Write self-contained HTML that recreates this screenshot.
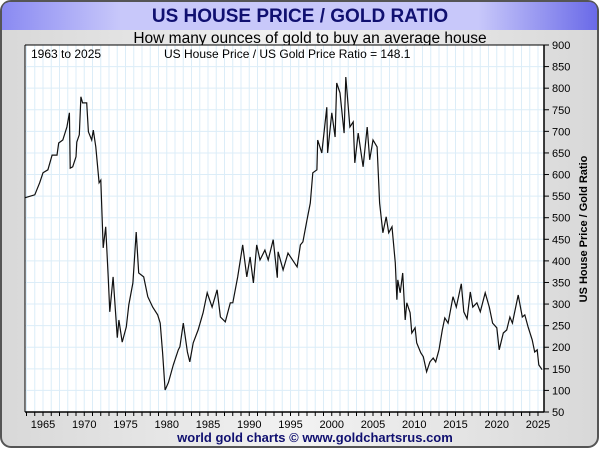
<!DOCTYPE html>
<html><head><meta charset="utf-8"><style>
body{margin:0;width:600px;height:450px;overflow:hidden;background:#fff;font-family:"Liberation Sans",sans-serif}
</style></head><body>
<svg width="600" height="450" viewBox="0 0 600 450">
<defs>
<linearGradient id="hdr" x1="0" x2="1" y1="0" y2="0">
<stop offset="0" stop-color="#8a8af2"/><stop offset="0.2" stop-color="#c8c8fa"/><stop offset="0.8" stop-color="#c8c8fa"/><stop offset="1" stop-color="#6a6ae8"/></linearGradient>
<linearGradient id="bg" x1="0" x2="1" y1="0" y2="0">
<stop offset="0" stop-color="#d8d8d8"/><stop offset="0.5" stop-color="#f2f2f2"/><stop offset="1" stop-color="#d8d8d8"/></linearGradient>
</defs>
<rect x="1" y="1" width="597" height="446" rx="10" fill="url(#bg)" stroke="#555" stroke-width="2"/>
<path d="M2,30 L2,11 Q2,2 11,2 L589,2 Q597,2 597,11 L597,30 Z" fill="url(#hdr)"/>
<text x="300" y="22" text-anchor="middle" font-size="19" font-weight="bold" fill="#101070">US HOUSE PRICE / GOLD RATIO</text>
<text x="310" y="43" text-anchor="middle" font-size="15.5" fill="#000">How many ounces of gold to buy an average house</text>
<rect x="25" y="45" width="519" height="367" fill="#fff"/>
<g id="grid"></g>
<path id="line" fill="none" stroke="#111" stroke-width="1.2"/>
<line x1="25" y1="45" x2="544" y2="45" stroke="#000"/>
<line x1="25" y1="45" x2="25" y2="412" stroke="#000"/>
<line x1="25" y1="412" x2="544" y2="412" stroke="#000" stroke-width="1.5"/>
<line x1="544" y1="45" x2="544" y2="412" stroke="#000" stroke-width="1.5"/>
<g id="axes"></g>
<text x="31" y="58" font-size="12">1963 to 2025</text>
<text x="164" y="58" font-size="12">US House Price / US Gold Price Ratio = 148.1</text>
<text transform="translate(587,229) rotate(-90)" text-anchor="middle" font-size="11" font-weight="bold">US House Price / Gold Ratio</text>
<text x="315" y="442" text-anchor="middle" font-size="13" font-weight="bold" fill="#101070">world gold charts © www.goldchartsrus.com</text>
</svg>
<script>
const years=[1962.8,1964.0,1964.6,1965.0,1965.6,1966.1,1966.7,1966.9,1967.4,1967.9,1968.2,1968.3,1968.6,1969.0,1969.1,1969.4,1969.6,1969.8,1970.3,1970.5,1970.9,1971.1,1971.4,1971.8,1972.0,1972.3,1972.6,1972.9,1973.1,1973.5,1974.0,1974.2,1974.6,1975.1,1975.4,1975.9,1976.3,1976.6,1977.2,1977.7,1978.3,1978.9,1979.2,1979.5,1979.8,1980.2,1980.8,1981.4,1981.6,1982.0,1982.5,1982.8,1983.2,1983.8,1984.4,1984.9,1985.5,1986.1,1986.5,1987.1,1987.7,1988.0,1988.6,1989.2,1989.7,1990.1,1990.5,1990.9,1991.3,1991.9,1992.3,1992.9,1993.4,1993.5,1994.1,1994.7,1995.8,1996.2,1996.5,1997.0,1997.4,1997.7,1998.2,1998.3,1998.8,1999.4,1999.5,2000.0,2000.4,2000.6,2001.0,2001.5,2001.7,2002.2,2002.6,2002.8,2003.2,2003.8,2004.3,2004.6,2005.0,2005.5,2005.8,2006.2,2006.6,2006.9,2007.3,2007.7,2007.9,2008.0,2008.3,2008.6,2008.9,2009.1,2009.5,2009.7,2010.1,2010.3,2010.8,2011.1,2011.5,2011.9,2012.3,2012.6,2013.0,2013.4,2013.7,2014.1,2014.7,2015.1,2015.7,2016.0,2016.4,2016.8,2017.1,2017.6,2018.0,2018.6,2019.1,2019.5,2020.0,2020.3,2020.8,2021.2,2021.6,2021.9,2022.6,2023.1,2023.4,2023.8,2024.3,2024.6,2024.9,2025.1,2025.5];
const ratios=[546,553,581,604,611,645,645,673,680,710,743,615,618,641,675,692,780,766,766,699,680,703,664,581,587,430,479,363,282,363,222,263,212,247,298,349,467,372,363,317,293,275,256,187,101,118,159,194,201,256,189,166,210,240,280,326,293,333,270,259,303,303,363,437,363,409,349,437,402,425,402,449,361,421,379,418,386,437,444,495,534,604,611,680,650,756,650,743,687,812,789,696,826,710,722,627,696,618,710,634,680,664,534,465,502,465,479,395,310,356,326,372,263,303,280,233,245,210,187,178,143,166,175,166,194,240,268,256,317,293,347,282,266,328,293,303,282,326,293,256,245,194,233,240,270,256,321,270,275,247,217,189,194,159,148];
const yTicks=[50,100,150,200,250,300,350,400,450,500,550,600,650,700,750,800,850,900];
const xLabels=[1965,1970,1975,1980,1985,1990,1995,2000,2005,2010,2015,2020,2025];
const X=y=>43+(y-1965)*8.25;
const Y=v=>412-(v-50)*(367/850);
const NS='http://www.w3.org/2000/svg';
const grid=document.getElementById('grid'),axes=document.getElementById('axes');
function mk(tag,attrs,parent){const e=document.createElementNS(NS,tag);for(const k in attrs)e.setAttribute(k,attrs[k]);parent.appendChild(e);return e;}
for(let yr=1963;yr<=2025;yr++){
  const g=mk('line',{x1:X(yr),x2:X(yr),y1:45,y2:412,stroke:'#dcedf8','stroke-width':1},grid);
  
  
  const t=mk('line',{x1:X(yr),x2:X(yr),y1:412,y2:416,stroke:'#000'},axes);
  
  
}
for(let v=100;v<900;v+=50){
  const g=mk('line',{x1:25,x2:544,y1:Y(v),y2:Y(v),stroke:'#dcedf8'},grid);
  
  
}
xLabels.forEach(yr=>{
  const t=mk('text',{x:X(yr),y:428,'text-anchor':'middle','font-size':11},axes);t.textContent=yr;
  
  
});
yTicks.forEach(v=>{
  const l=mk('line',{x1:544,x2:549,y1:Y(v),y2:Y(v),stroke:'#000'},axes);
  
  
  const t=mk('text',{x:552,y:Y(v)+4,'font-size':11},axes);t.textContent=v;
  
  
});
document.getElementById('line').setAttribute('d',years.map((y,i)=>(i?'L':'M')+X(y).toFixed(1)+','+Y(ratios[i]).toFixed(1)).join(' '));
</script>
</body></html>
